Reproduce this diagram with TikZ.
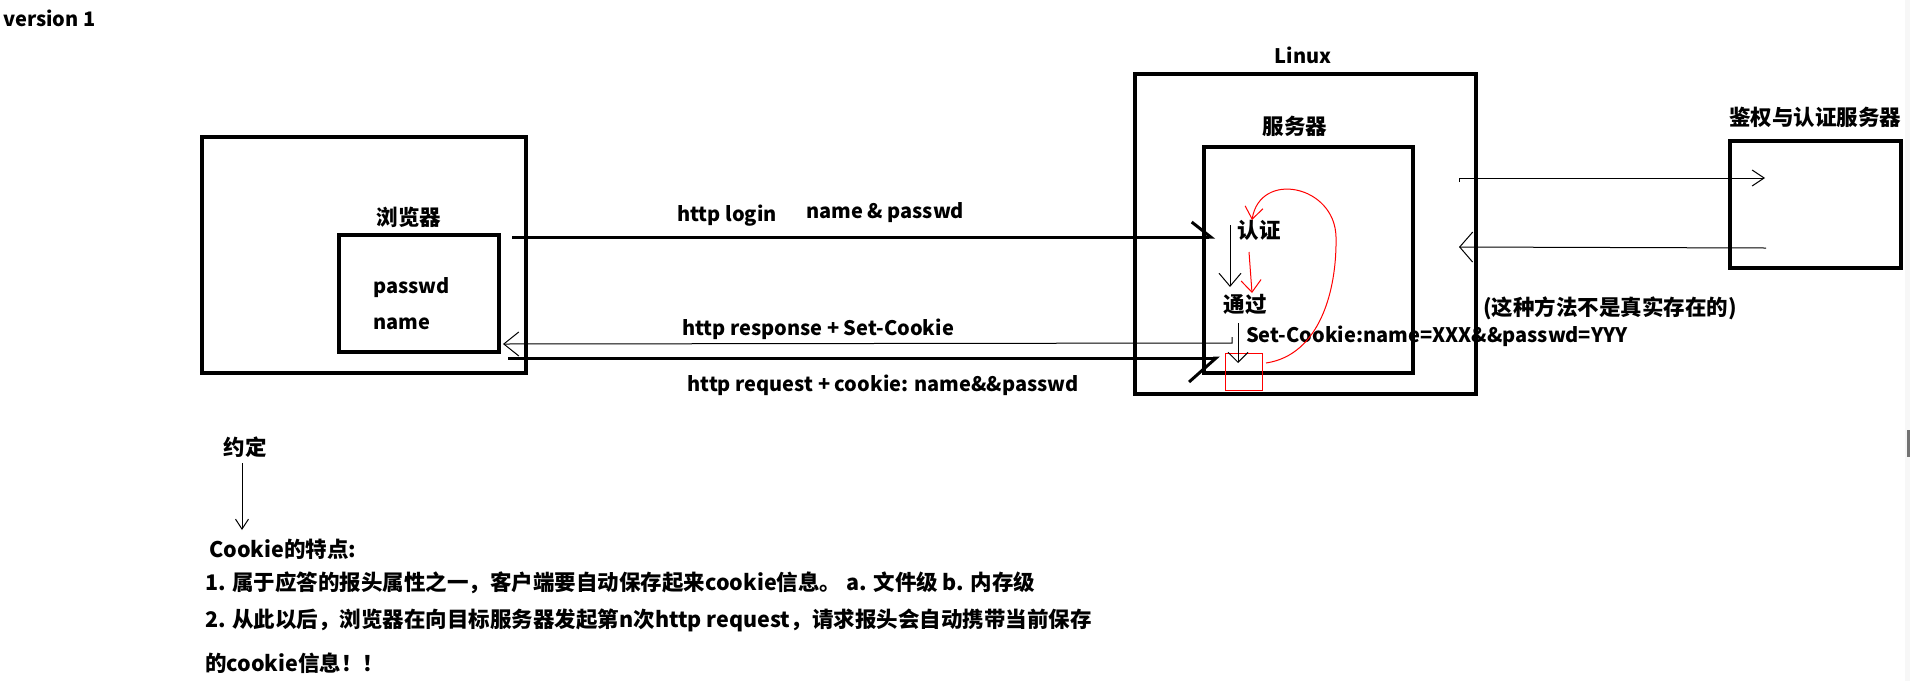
\documentclass[tikz,border=0pt]{standalone}
\usepackage{fontspec}
\setmainfont{Noto Sans CJK SC}
\usetikzlibrary{arrows.meta}

\begin{document}
\begin{tikzpicture}[x=1pt, y=-1pt,
    box/.style={draw, line width=3.5pt, inner sep=0pt},
    lbl/.style={font=\fontsize{21.5}{25}\selectfont\bfseries, inner sep=0pt},
    latn/.style={lbl, font=\fontsize{20}{24}\selectfont\bfseries},
    thinline/.style={line width=1pt},
    heavy/.style={line width=3pt},
    vtip/.style={-{Straight Barb[length=13pt, width=22pt]}}]
    \useasboundingbox (0,0) rectangle (1910,681);
    % scroll bar at the right edge
    \fill[black!3] (1905,0) rectangle (1910,681);
    \fill[black!55] (1907,430) rectangle (1910,457);

    \node (ver) at (3,18) [latn, anchor=west] {version 1};

    % Browser
    \node (brOut) at (364,255) [box, minimum width=324pt, minimum height=236pt] {};
    \node (brIn) at (419,293.5) [box, minimum width=160pt, minimum height=117pt] {};
    \node (brLbl) at (409,217) [lbl] {浏览器};
    \node (pw) at (373,288) [latn, anchor=west] {passwd};
    \node (nm) at (373,324) [latn, anchor=west] {name};

    % Linux + server
    \node (lnx) at (1305.5,234) [box, minimum width=341pt, minimum height=320pt] {};
    \node (lnxLbl) at (1303,55) [latn] {Linux};
    \node (srv) at (1308.5,260) [box, minimum width=209pt, minimum height=226pt] {};
    \node (srvLbl) at (1295,126) [lbl] {服务器};
    \node (auth) at (1259,230) [lbl] {认证};
    \node (pass) at (1245,304) [lbl] {通过};
    \node (setck) at (1246,336) [latn, anchor=west] {Set-Cookie:name=XXX\&\&passwd=YYY};
    \node (ckbox) at (1243.5,371.5) [draw=red, thinline, minimum width=37pt, minimum height=37pt] {};

    % Auth server
    \node (aSrv) at (1815.5,204.5) [box, minimum width=171pt, minimum height=127pt] {};
    \node (aLbl) at (1815,117) [lbl] {鉴权与认证服务器};
    \node (note) at (1610,308) [lbl] {(这种方法不是真实存在的)};

    % Messages
    \node (login) at (727,216) [latn] {http login};
    \node (cred) at (885,213) [latn] {name \& passwd};
    \node (resp) at (818,329) [latn] {http response + Set-Cookie};
    \node (req) at (883,385) [latn] {http request + cookie: name\&\&passwd};

    \coordinate (logS) at (512,237);
    \coordinate (logE) at (1215,237);
    \coordinate (respS) at (1232,343);
    \coordinate (respE) at (503,344);
    \coordinate (reqS) at (508,358);
    \coordinate (reqE) at (1220,358);
    \coordinate (toAS) at (1459,178);
    \coordinate (toAE) at (1765,178);
    \coordinate (frAS) at (1766,248);
    \coordinate (frAE) at (1459,247);

    \draw[heavy, -{Straight Barb[left, length=19pt, width=30pt]}] (logS) -- (logE);
    \draw[thinline, -{Straight Barb[length=15pt, width=24pt]}] ([yshift=6pt]respS) -- (respS) -- (respE);
    \draw[heavy, -{Straight Barb[right, length=27pt, width=48pt]}] (reqS) -- (reqE);
    \draw[thinline, -{Straight Barb[length=12pt, width=16pt]}] ([yshift=-4pt]toAS) -- (toAS) -- (toAE);
    \draw[thinline, -{Straight Barb[length=13pt, width=30pt]}] (frAS) -- (frAE);

    % inside the server
    \coordinate (a1) at (1230,225);
    \coordinate (a2) at (1230,287);
    \coordinate (b1) at (1238,323);
    \coordinate (b2) at (1238,363);
    \draw[thinline, vtip] (a1) -- (a2);
    \draw[thinline, -{Straight Barb[length=10pt, width=20pt]}] (b1) -- (b2);

    \coordinate (r1) at (1249,252);
    \coordinate (r2) at (1252,293);
    \coordinate (r3) at (1266,363);
    \coordinate (r4) at (1252,220);
    \draw[red, thinline, -{Straight Barb[length=12pt, width=20pt]}] (r1) -- (r2);
    \draw[red, thinline, -{Straight Barb[length=12pt, width=18pt]}] (r3) .. controls (1320,355) and (1337,290) .. (1336,237)
        .. controls (1335,185) and (1260,170) .. (r4);

    % Cookie notes
    \node (yd) at (245,447) [lbl] {约定};
    \node (feat) at (209,549) [lbl, anchor=west] {Cookie的特点:};
    \node (ln1) at (205,583) [lbl, anchor=west] {1. 属于应答的报头属性之一，客户端要自动保存起来cookie信息。 a. 文件级 b. 内存级};
    \node (ln2) at (205,620) [lbl, anchor=west] {2. 从此以后，浏览器在向目标服务器发起第n次http request，请求报头会自动携带当前保存};
    \node (ln3) at (205,663) [lbl, anchor=west] {的cookie信息！！};
    \draw[thinline, -{Straight Barb[length=10pt, width=13pt]}] (242,463) -- (242,530);
\end{tikzpicture}
\end{document}
